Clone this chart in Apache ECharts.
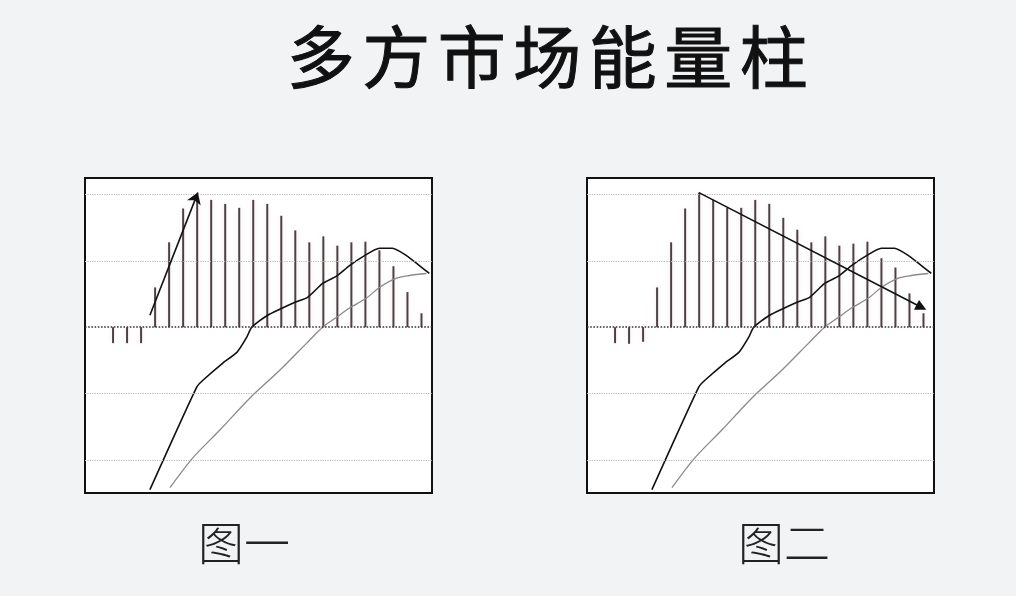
<!DOCTYPE html>
<html><head><meta charset="utf-8">
<script src="https://cdn.jsdelivr.net/npm/echarts@6/dist/echarts.min.js"></script>
<style>html,body{margin:0;padding:0;background:#f2f3f5}#c{width:1016px;height:596px}</style>
</head><body><div id="c"></div>
<script>
// ---- data ----
const titleText = '多方市场能量柱';
const panelLabels = ['图一', '图二'];
const barSlots = [0,1,2,3,4,5,6,7,8,9,10,11,12,13,14,15,16,17,18,19,20,21,22];
const histLeft  = [-0.24,-0.24,-0.24,0.60,1.28,1.79,1.98,1.92,1.86,1.80,1.92,1.86,1.68,1.46,1.28,1.37,1.23,1.28,1.29,1.16,0.92,0.53,0.21];
const histRight = [-0.24,-0.25,-0.22,0.60,1.28,1.79,2.03,1.92,1.80,1.80,1.92,1.86,1.65,1.47,1.28,1.37,1.23,1.26,1.29,1.04,0.90,0.51,0.21];
const difLine = [[2.63,-2.45],[3.91,-1.85],[5.98,-0.90],[6.41,-0.80],[7.83,-0.54],[8.83,-0.38],[9.54,-0.15],[9.89,0],[11.03,0.18],[13.02,0.38],[13.88,0.45],[14.95,0.66],[15.94,0.77],[16.87,0.93],[17.94,1.08],[19.0,1.19],[19.93,1.19],[20.93,1.08],[21.85,0.93],[22.56,0.81]];
const deaLine = [[4.06,-2.42],[5.69,-1.97],[7.62,-1.55],[9.75,-1.07],[11.89,-0.65],[13.81,-0.24],[14.95,0],[15.94,0.15],[16.87,0.29],[18.08,0.44],[19.0,0.60],[20.21,0.74],[21.14,0.78],[22.35,0.81]];
const gridLevels = [2, 1, -1, -2];
const arrowLeft  = [[2.63,0.18],[6.05,2.03]];
const arrowRight = [[5.98,2.03],[21.85,0.30]];

// ---- chart ----
const chart = echarts.init(document.getElementById('c'));
const panels = [
  {left: 85, hist: histLeft, arrow: arrowLeft, arrowSym: 'arrow'},
  {left: 587, hist: histRight, arrow: arrowRight, arrowSym: 'triangle'}
];
const grids = [], xAxes = [], yAxes = [], series = [];
panels.forEach((p, i) => {
  grids.push({left: p.left, top: 178, width: 347, height: 315, show: true,
    backgroundColor: '#ffffff', borderColor: '#111', borderWidth: 2, z: 0});
  xAxes.push({type: 'value', gridIndex: i, min: -2, max: 22.75, show: false, splitLine: {show: false}});
  yAxes.push({type: 'value', gridIndex: i, min: -2.5, max: 2.25, show: false, splitLine: {show: false}});
  const gl = gridLevels.map(v => ({yAxis: v, lineStyle: {color: '#b8b8bc', type: 'dotted', width: 1.2}}));
  gl.push({yAxis: 0, lineStyle: {color: '#333', type: 'dotted', width: 1.6}});
  series.push({
    type: 'bar', xAxisIndex: i, yAxisIndex: i, barWidth: 2,
    data: barSlots.map((x, k) => [x, p.hist[k]]),
    itemStyle: {color: '#4a4345', shadowColor: 'rgba(230,170,180,0.35)', shadowBlur: 4},
    markLine: {silent: true, symbol: ['none', 'none'], label: {show: false}, data: gl, animation: false},
    animation: false, z: 2
  });
  series.push({
    type: 'line', xAxisIndex: i, yAxisIndex: i, data: deaLine, symbol: 'none', smooth: 0.3,
    lineStyle: {color: '#8e878b', width: 1.3}, animation: false, z: 3
  });
  series.push({
    type: 'line', xAxisIndex: i, yAxisIndex: i, data: difLine, symbol: 'none', smooth: 0.2,
    lineStyle: {color: '#111', width: 1.6}, animation: false, z: 4,
    markLine: {silent: true, symbol: ['none', p.arrowSym], symbolSize: 11, label: {show: false},
      lineStyle: {color: '#111', width: 1.6, type: 'solid'}, animation: false,
      data: [[{coord: p.arrow[0]}, {coord: p.arrow[1]}]]}
  });
});

const chars = titleText.split('');
chart.setOption({
  backgroundColor: '#f2f3f5',
  title: [
    {text: chars.map(c => '{c|' + c + '}').join(''), left: 278, top: 12,
      textStyle: {rich: {c: {width: 75.5, align: 'center', fontSize: 68, lineHeight: 80,
        fontFamily: 'Noto Sans CJK SC', fontWeight: 'normal', color: '#111',
        textBorderColor: '#111', textBorderWidth: 1.0}}}},
    {text: panelLabels[0], left: 193, top: 511,
      textStyle: {fontSize: 46, lineHeight: 54, fontFamily: 'Noto Sans CJK SC', fontWeight: 300, color: '#222'}},
    {text: panelLabels[1], left: 733, top: 511,
      textStyle: {fontSize: 46, lineHeight: 54, fontFamily: 'Noto Sans CJK SC', fontWeight: 300, color: '#222'}}
  ],
  grid: grids, xAxis: xAxes, yAxis: yAxes, series: series
});
</script></body></html>
